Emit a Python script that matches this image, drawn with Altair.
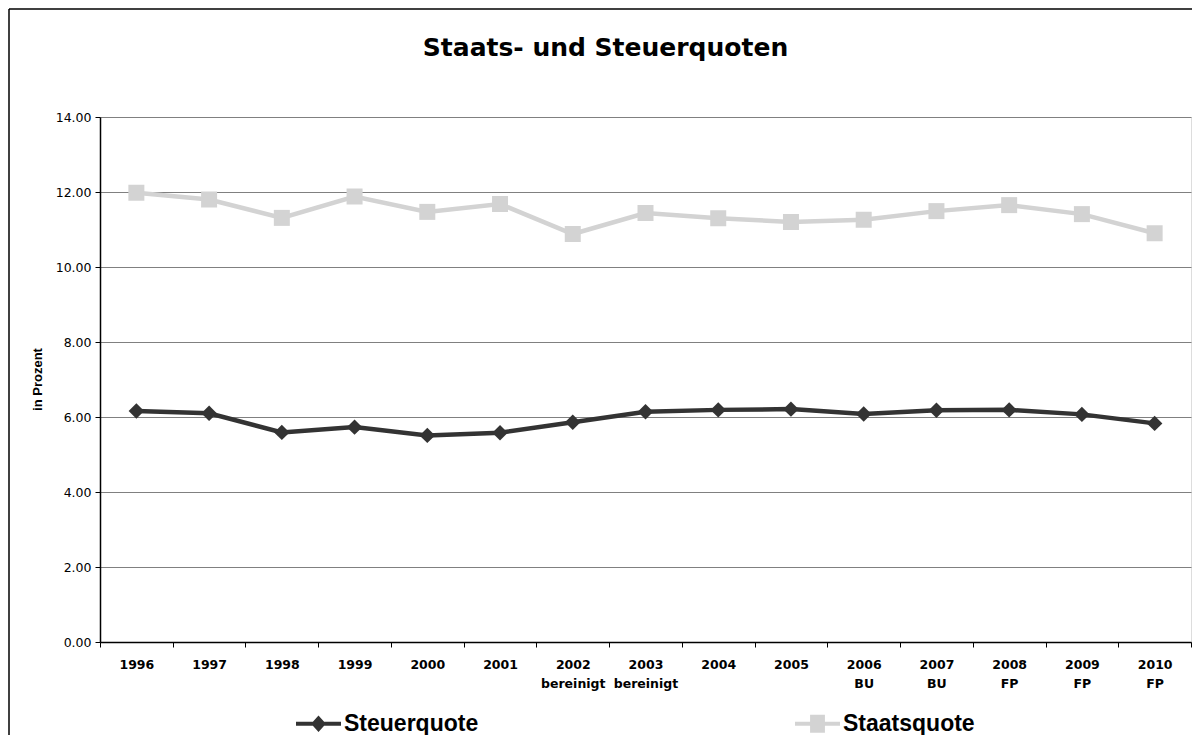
import altair as alt
import pandas as pd

categories = ["1996", "1997", "1998", "1999", "2000", "2001", "2002|bereinigt", "2003|bereinigt",
              "2004", "2005", "2006|BU", "2007|BU", "2008|FP", "2009|FP", "2010|FP"]
steuerquote = [6.16, 6.10, 5.59, 5.73, 5.51, 5.58, 5.86, 6.14, 6.19, 6.21, 6.08, 6.18, 6.19, 6.07, 5.83]
staatsquote = [11.98, 11.80, 11.31, 11.88, 11.47, 11.68, 10.88, 11.44, 11.30, 11.20, 11.26, 11.49, 11.65, 11.41, 10.90]
series_names = ["Steuerquote", "Staatsquote"]
y_ticks = [0, 2, 4, 6, 8, 10, 12, 14]

DARK = "#333333"
LIGHT = "#d3d3d3"

rows = []
for c, v in zip(categories, steuerquote):
    rows.append({"Jahr": c, "Wert": v, "Reihe": "Steuerquote"})
for c, v in zip(categories, staatsquote):
    rows.append({"Jahr": c, "Wert": v, "Reihe": "Staatsquote"})
df = pd.DataFrame(rows)

x_enc = alt.X("Jahr:N", sort=categories,
              scale=alt.Scale(paddingInner=0, paddingOuter=0),
              axis=alt.Axis(title=None, labelAngle=0, labelExpr="split(datum.label, '|')",
                            labelFont="DejaVu Sans", labelFontWeight="bold", labelFontSize=12.5,
                            labelColor="#000000", labelLineHeight=19, labelPadding=11,
                            labelBaseline="top",
                            tickBand="extent", tickColor="#000000", tickSize=5,
                            domainColor="#000000", domainWidth=1.5, grid=False))
y_enc = alt.Y("Wert:Q", scale=alt.Scale(domain=[0, 14], nice=False),
              axis=alt.Axis(title="in Prozent", values=y_ticks, format=".2f",
                            labelFont="DejaVu Sans", labelFontSize=12.5, labelColor="#000000",
                            labelPadding=4, tickColor="#000000", tickSize=5,
                            domainColor="#000000", domainWidth=1.5,
                            grid=True, gridColor="#808080", gridWidth=1.2,
                            titleFont="Liberation Sans", titleFontWeight="bold", titleFontSize=13,
                            titleColor="#000000", titleAngle=270, titleX=-63, titleY=262,
                            titleBaseline="middle", titleAlign="center"))

base = alt.Chart(df)

stq_line = base.transform_filter(alt.datum.Reihe == "Staatsquote").mark_line(
    color=LIGHT, strokeWidth=4.5).encode(x=x_enc, y=y_enc)
stq_pts = base.transform_filter(alt.datum.Reihe == "Staatsquote").mark_point(
    shape="square", size=256, filled=True, color=LIGHT, opacity=1).encode(x=x_enc, y=y_enc)
stu_line = base.transform_filter(alt.datum.Reihe == "Steuerquote").mark_line(
    color=DARK, strokeWidth=4.5).encode(x=x_enc, y=y_enc)
stu_pts = base.transform_filter(alt.datum.Reihe == "Steuerquote").mark_point(
    shape="diamond", size=240, filled=True, color=DARK, opacity=1).encode(x=x_enc, y=y_enc)

diamond_sym = "M-1,-0.09L1,-0.09L1,0.09L-1,0.09Z M0,-0.37L0.33,0L0,0.37L-0.33,0Z"
square_sym = "M-1,-0.09L1,-0.09L1,0.09L-1,0.09Z M-0.33,-0.4L0.33,-0.4L0.33,0.4L-0.33,0.4Z"

legend_layer = base.transform_filter("false").mark_point(filled=True, opacity=1).encode(
    x=x_enc, y=y_enc,
    color=alt.Color("Reihe:N", scale=alt.Scale(domain=series_names, range=[DARK, LIGHT]),
                    legend=alt.Legend(title=None, orient="none", direction="horizontal",
                                      legendX=196, legendY=584, padding=0,
                                      symbolSize=2025, symbolOpacity=1, symbolStrokeWidth=0,
                                      labelFont="Liberation Sans", labelFontWeight="bold",
                                      labelFontSize=23, labelColor="#000000", labelOffset=3,
                                      columnPadding=316, symbolLimit=0)),
    shape=alt.Shape("Reihe:N", scale=alt.Scale(domain=series_names, range=[diamond_sym, square_sym])),
)

frame_df = pd.DataFrame({"f": [0]})
frame_left = alt.Chart(frame_df).mark_rule(color="#000000", strokeWidth=1.5).encode(
    x=alt.value(-91), y=alt.value(-108), y2=alt.value(640))
frame_top = alt.Chart(frame_df).mark_rule(color="#000000", strokeWidth=1.5).encode(
    x=alt.value(-91), x2=alt.value(1100), y=alt.value(-108))

chart = alt.layer(frame_left, frame_top, stq_line, stq_pts, stu_line, stu_pts, legend_layer).properties(
    width=1091, height=525,
    autosize=alt.AutoSizeParams(type="none"),
    padding={"left": 92, "top": 109, "right": 1, "bottom": 93},
    title=alt.Title("Staats- und Steuerquoten", font="DejaVu Sans", fontWeight="bold",
                    fontSize=25, color="#000000", anchor="middle", dx=-40, offset=-53),
).configure_view(stroke="#b0b0b0", strokeWidth=1.5).configure(background="white")

chart.save("out.html", embed_options={"renderer": "svg", "actions": False})
